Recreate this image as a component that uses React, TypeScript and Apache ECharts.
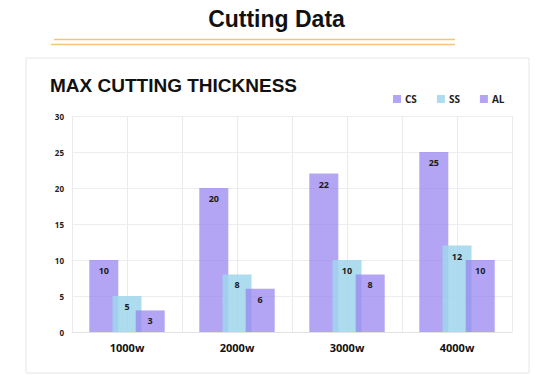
import React, { useEffect, useRef } from "react";
import * as echarts from "echarts";

const categories = ["1000w", "2000w", "3000w", "4000w"];
const csValues = [10, 20, 22, 25];
const ssValues = [5, 8, 10, 12];
const alValues = [3, 6, 8, 10];
const seriesNames = ["CS", "SS", "AL"];

export default function App() {
  const ref = useRef<HTMLDivElement>(null);
  useEffect(() => {
    if (!ref.current) return;
    const chart = echarts.init(ref.current, undefined, { renderer: "svg" });
    const font = "'Open Sans', 'DejaVu Sans', sans-serif";
    const label = {
      show: true,
      position: "insideTop" as const,
      distance: 6,
      color: "#1a1a1a",
      fontSize: 9,
      fontWeight: "bold" as const,
      fontFamily: font,
    };
    const purple = "rgba(150,130,240,0.72)";
    const blue = "rgba(160,214,236,0.85)";
    chart.setOption({
      animation: false,
      backgroundColor: "#ffffff",
      title: [
        {
          text: "Cutting Data",
          left: "center",
          top: 2,
          textStyle: { fontSize: 23, fontWeight: "bold", color: "#111", fontFamily: "'Liberation Sans', Arial, sans-serif" },
        },
        {
          text: "MAX CUTTING THICKNESS",
          left: 45,
          top: 71,
          textStyle: { fontSize: 19, fontWeight: "bold", color: "#111", fontFamily: "'Liberation Sans', Arial, sans-serif" },
        },
      ],
      graphic: [
        {
          type: "rect",
          z: -10,
          shape: { x: 26, y: 58, width: 503, height: 315 },
          style: { fill: "#fff", stroke: "#e6e6e6", lineWidth: 1 },
        },
        {
          type: "line",
          shape: { x1: 54, y1: 39.5, x2: 455, y2: 39.5 },
          style: { stroke: "#f5c47c", lineWidth: 1.3 },
        },
        {
          type: "line",
          shape: { x1: 51, y1: 44.5, x2: 455, y2: 44.5 },
          style: { stroke: "#f5c47c", lineWidth: 1.3 },
        },
      ],
      legend: {
        data: seriesNames,
        left: 388,
        top: 89,
        itemWidth: 8,
        itemHeight: 8,
        itemGap: 20,
        icon: "rect",
        textStyle: { fontSize: 10, fontWeight: "bold", color: "#222", fontFamily: font, padding: [0, 0, 0, -1] },
      },
      grid: { left: 72, right: 41, top: 116, bottom: 43 },
      xAxis: [
        {
          type: "category",
          data: categories,
          axisTick: { show: false },
          axisLine: { lineStyle: { color: "#e3e3e3" } },
          axisLabel: { fontSize: 11, fontWeight: "bold", color: "#111", fontFamily: font, margin: 10 },
          splitLine: { show: false },
        },
        {
          type: "value",
          min: 0,
          max: 8,
          interval: 1,
          position: "bottom",
          axisLine: { show: false },
          axisTick: { show: false },
          axisLabel: { show: false },
          splitLine: { show: true, lineStyle: { color: "#ebebeb" } },
        },
      ],
      yAxis: {
        type: "value",
        min: 0,
        max: 30,
        interval: 5,
        axisLine: { show: false },
        axisTick: { show: false },
        axisLabel: { fontSize: 8, fontWeight: "bold", color: "#222", fontFamily: font, margin: 8 },
        splitLine: { lineStyle: { color: "#ededed" } },
      },
      series: [
        { name: "CS", type: "bar", xAxisIndex: 0, data: csValues, barWidth: 29, barGap: "-20%", itemStyle: { color: purple }, label },
        { name: "SS", type: "bar", xAxisIndex: 0, data: ssValues, barWidth: 29, barGap: "-20%", itemStyle: { color: blue }, label },
        { name: "AL", type: "bar", xAxisIndex: 0, data: alValues, barWidth: 29, barGap: "-20%", itemStyle: { color: purple }, label },
      ],
    });
    return () => chart.dispose();
  }, []);
  return <div ref={ref} style={{ position: "fixed", left: 0, top: 0, width: 553, height: 375 }} />;
}
